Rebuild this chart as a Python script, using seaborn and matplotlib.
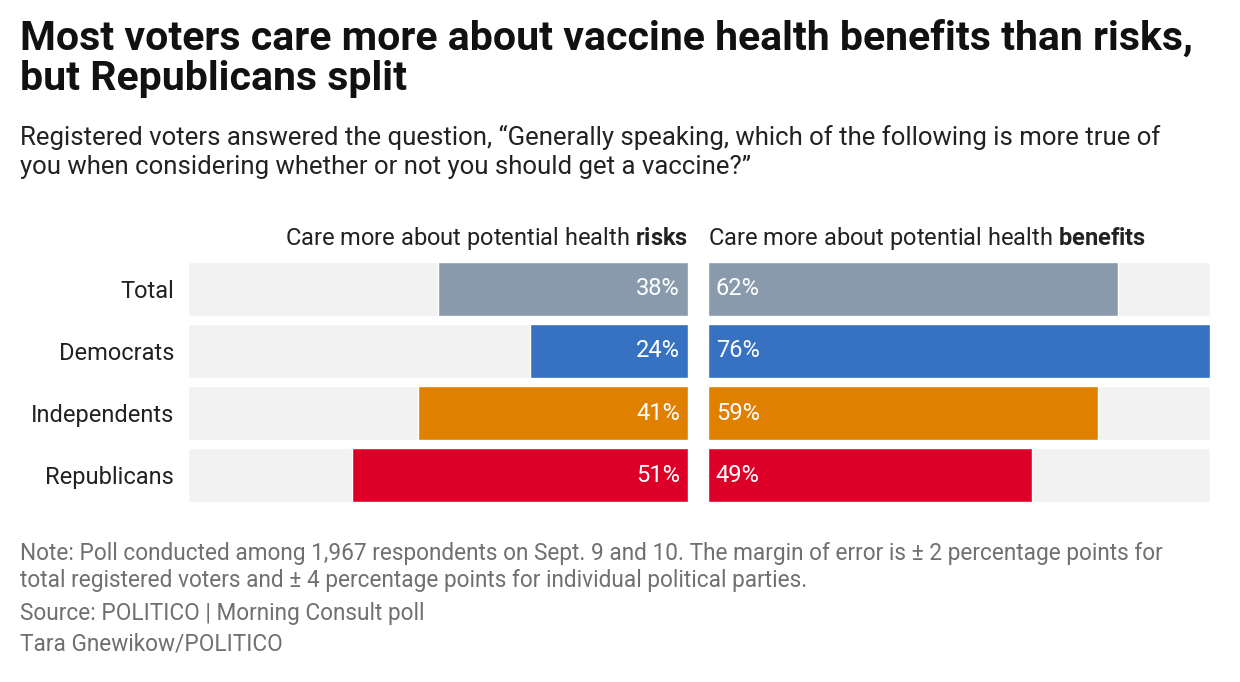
import matplotlib
matplotlib.use("Agg")
import matplotlib.pyplot as plt
import seaborn as sns
import pandas as pd

groups = ["Total", "Democrats", "Independents", "Republicans"]
risks = [38, 24, 41, 51]
benefits = [62, 76, 59, 49]
colors = ["#8a9aad", "#3671c2", "#e08000", "#dc0028"]
max_val = 76

sns.set_theme(style="white")
plt.rcParams['font.family'] = ['Roboto', 'DejaVu Sans']
plt.rcParams['mathtext.fontset'] = 'custom'
plt.rcParams['mathtext.rm'] = 'Roboto'
plt.rcParams['mathtext.bf'] = 'Roboto:bold'

fig = plt.figure(figsize=(12.4, 6.82), dpi=100)
bottom = 1 - 502/682
height = 240/682
axL = fig.add_axes([188/1240, bottom, 500/1240, height])
axR = fig.add_axes([708/1240, bottom, 502/1240, height])

df = pd.DataFrame({"group": groups, "risks": risks, "benefits": benefits,
                   "full": [max_val]*4})
w = 54/62
for ax, col in [(axL, "risks"), (axR, "benefits")]:
    sns.barplot(data=df, y="group", x="full", color="#f2f2f2", width=w, ax=ax,
                orient="h", saturation=1)
    sns.barplot(data=df, y="group", x=col, hue="group", palette=colors, width=w,
                ax=ax, orient="h", legend=False, saturation=1)
    ax.set_xlim(0, max_val)
    ax.set_ylim(3.435, -0.435)
    ax.set_xlabel(""); ax.set_ylabel("")
    ax.set_xticks([])
    for s in ax.spines.values():
        s.set_visible(False)
    ax.tick_params(length=0)

axL.invert_xaxis()
axL.set_yticks(range(4))
axL.set_yticklabels(groups, fontsize=17, color="#222222")
axL.tick_params(axis="y", pad=10)
axR.set_yticks([])

for i, v in enumerate(risks):
    axL.text(1.2, i, f"{v}%", ha="right", va="center", color="white", fontsize=17)
for i, v in enumerate(benefits):
    axR.text(1.2, i, f"{v}%", ha="left", va="center", color="white", fontsize=17)

axL.text(0, -0.6, "Care more about potential health $\\bf{risks}$", ha="right", va="bottom",
         fontsize=17, color="#222222")
axR.text(0, -0.6, "Care more about potential health $\\bf{benefits}$", ha="left", va="bottom",
         fontsize=17, color="#222222")

fig.text(20/1240, 1-20/682, "Most voters care more about vaccine health benefits than risks,\nbut Republicans split",
         fontsize=29.5, fontweight="bold", va="top", ha="left", color="#111111", linespacing=1.05)
fig.text(20/1240, 1-125/682, "Registered voters answered the question, \u201cGenerally speaking, which of the following is more true of\nyou when considering whether or not you should get a vaccine?\u201d",
         fontsize=18.5, va="top", ha="left", color="#222222", linespacing=1.25)
fig.text(20/1240, 1-542/682, "Note: Poll conducted among 1,967 respondents on Sept. 9 and 10. The margin of error is \u00b1 2 percentage points for\ntotal registered voters and \u00b1 4 percentage points for individual political parties.",
         fontsize=16.3, va="top", ha="left", color="#707070", linespacing=1.2)
fig.text(20/1240, 1-602/682, "Source: POLITICO | Morning Consult poll", fontsize=16.3, va="top", ha="left", color="#707070")
fig.text(20/1240, 1-633/682, "Tara Gnewikow/POLITICO", fontsize=16.3, va="top", ha="left", color="#707070")

fig.savefig("out.png", dpi=100, facecolor="white")
